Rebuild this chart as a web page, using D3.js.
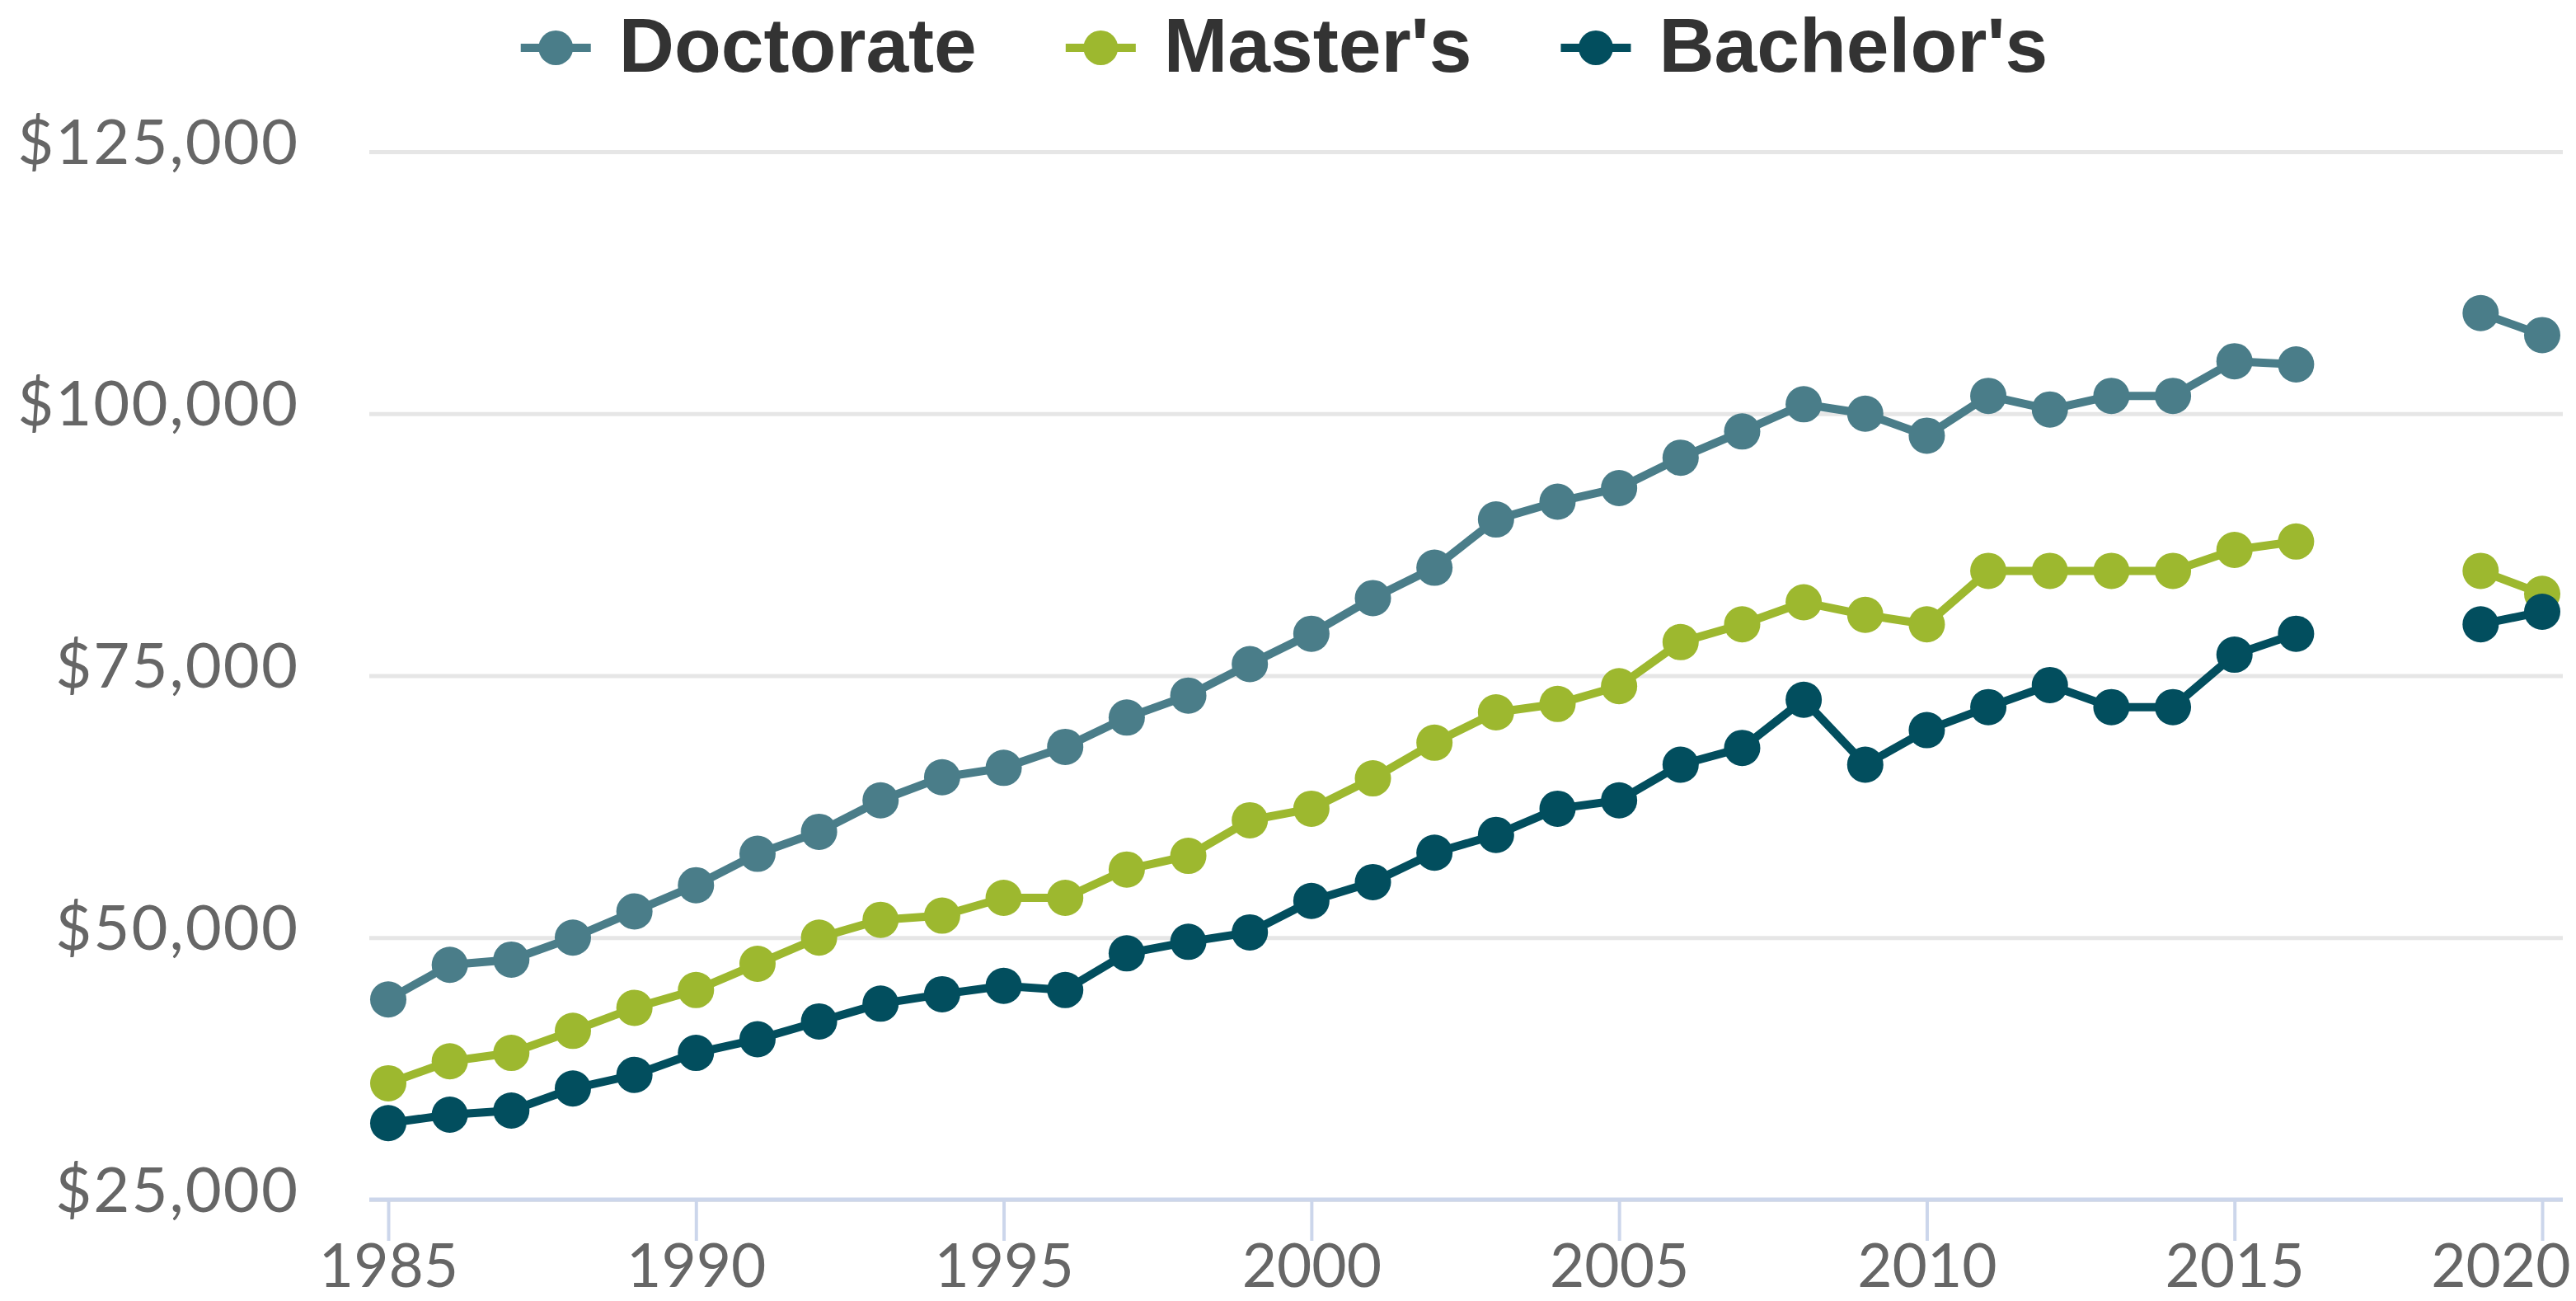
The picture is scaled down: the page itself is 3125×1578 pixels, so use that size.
<!DOCTYPE html>
<html>
<head>
<meta charset="utf-8">
<script src="https://cdn.jsdelivr.net/npm/d3@7"></script>
<style>
body { margin: 0; background: #fff; }
</style>
</head>
<body>
<div id="chart"></div>
<script>
// data (2017 and 2018 are missing)
var years = d3.range(1985, 2021)
var doctorate = [44100, 47400, 47900, 50000, 52500, 55000, 58000, 60100, 63100, 65300,
    66200, 68200, 71000, 73100, 76100, 79000, 82400, 85300, 89900, 91600,
    92900, 95800, 98300, 100900, 100000, 97900, 101700, 100400, 101700, 101700,
    105000, 104700, null, null, 109600, 107500]
var masters = [36100, 38200, 39000, 41100, 43300, 45000, 47500, 50000, 51700, 52100,
    53800, 53800, 56500, 57800, 61200, 62300, 65200, 68600, 71500, 72300,
    74000, 78200, 79900, 82000, 80800, 79900, 85000, 85000, 85000, 85000,
    87000, 87800, null, null, 85000, 82800]
var bachelors = [32300, 33100, 33500, 35600, 36900, 39000, 40300, 42000, 43700, 44600,
    45400, 45000, 48500, 49600, 50500, 53500, 55300, 58100, 59800, 62300,
    63100, 66500, 68100, 72700, 66500, 69800, 72000, 74100, 72000, 72000,
    77000, 79000, null, null, 79900, 81100]
var seriesNames = ["Doctorate", "Master's", "Bachelor's"]
var seriesColors = ["#4a7d89", "#9db82f", "#024e5e"]
var yTicks = [25000, 50000, 75000, 100000, 125000]
var xTicks = [1985, 1990, 1995, 2000, 2005, 2010, 2015, 2020]

var width = 3125
var height = 1578
var plot = {left: 448, right: 3109, top: 184, bottom: 1455}
var labelFont = "Lato, 'Open Sans', sans-serif"

var svg = d3.select("#chart")
    .append("svg")
    .attr("width", width)
    .attr("height", height)

var xScale = d3.scaleLinear()
    .domain([1985, 2020])
    .range([471, 3084])
var yScale = d3.scaleLinear()
    .domain([25000, 125000])
    .range([plot.bottom, plot.top])

// y axis: gridlines + dollar labels
var yAxis = svg.append("g")
    .attr("transform", "translate(" + plot.left + ",0)")
    .call(d3.axisLeft(yScale)
        .tickValues(yTicks)
        .tickFormat(d3.format("$,"))
        .tickSize(-(plot.right - plot.left))
        .tickPadding(85))
yAxis.select(".domain").remove()
yAxis.selectAll(".tick line")
    .attr("stroke", "#e6e6e6")
    .attr("stroke-width", 5)
yAxis.selectAll(".tick text")
    .attr("fill", "#666")
    .attr("font-family", labelFont)
    .attr("font-size", 76)
    .attr("letter-spacing", 2)
    .attr("dy", 14)

// x axis
var xAxis = svg.append("g")
    .attr("transform", "translate(0," + plot.bottom + ")")
    .call(d3.axisBottom(xScale)
        .tickValues(xTicks)
        .tickFormat(d3.format("d"))
        .tickSize(50)
        .tickSizeOuter(0))
xAxis.select(".domain").remove()
xAxis.selectAll(".tick line")
    .attr("stroke", "#ccd6eb")
    .attr("stroke-width", 4)
xAxis.selectAll(".tick text")
    .attr("fill", "#666")
    .attr("font-family", labelFont)
    .attr("font-size", 73)
    .attr("y", 106)
    .attr("dy", 0)
// keep the last label inside the picture, like the original does
xAxis.selectAll(".tick text")
    .filter(function(d) { return d == 2020 })
    .attr("text-anchor", "end")
    .attr("x", 34)
xAxis.append("line")
    .attr("x1", plot.left)
    .attr("x2", plot.right)
    .attr("y1", 0)
    .attr("y2", 0)
    .attr("stroke", "#ccd6eb")
    .attr("stroke-width", 5)

// series
var allSeries = [doctorate, masters, bachelors]
var line = d3.line()
    .defined(function(d) { return d.value != null })
    .x(function(d) { return xScale(d.year) })
    .y(function(d) { return yScale(d.value) })

allSeries.forEach(function(values, i) {
    var data = years.map(function(y, j) { return {year: y, value: values[j]} })
    var g = svg.append("g")
    g.append("path")
        .datum(data)
        .attr("fill", "none")
        .attr("stroke", seriesColors[i])
        .attr("stroke-width", 10)
        .attr("stroke-linejoin", "round")
        .attr("d", line)
    g.selectAll("circle")
        .data(data.filter(function(d) { return d.value != null }))
        .enter()
        .append("circle")
        .attr("cx", function(d) { return xScale(d.year) })
        .attr("cy", function(d) { return yScale(d.value) })
        .attr("r", 22)
        .attr("fill", seriesColors[i])
})

// legend, centered at the top
var legend = svg.append("g")
var symbolWidth = 85
var textGap = 34
var itemGap = 108
var legendY = 58
var items = legend.selectAll("g")
    .data(seriesNames)
    .enter()
    .append("g")
items.append("line")
    .attr("x1", 0)
    .attr("x2", symbolWidth)
    .attr("y1", legendY)
    .attr("y2", legendY)
    .attr("stroke", function(d, i) { return seriesColors[i] })
    .attr("stroke-width", 10)
items.append("circle")
    .attr("cx", symbolWidth / 2)
    .attr("cy", legendY)
    .attr("r", 21)
    .attr("fill", function(d, i) { return seriesColors[i] })
items.append("text")
    .attr("x", symbolWidth + textGap)
    .attr("y", 87)
    .attr("fill", "#333")
    .attr("font-family", "'Liberation Sans', Arial, sans-serif")
    .attr("font-weight", "bold")
    .attr("font-size", 93)
    .text(function(d) { return d })

var offsets = []
var total = 0
items.each(function() {
    var w = symbolWidth + textGap + d3.select(this).select("text").node().getComputedTextLength()
    offsets.push(total)
    total += w + itemGap
})
total -= itemGap
var legendStart = 1558 - total / 2
items.attr("transform", function(d, i) { return "translate(" + (legendStart + offsets[i]) + ",0)" })
</script>
</body>
</html>
